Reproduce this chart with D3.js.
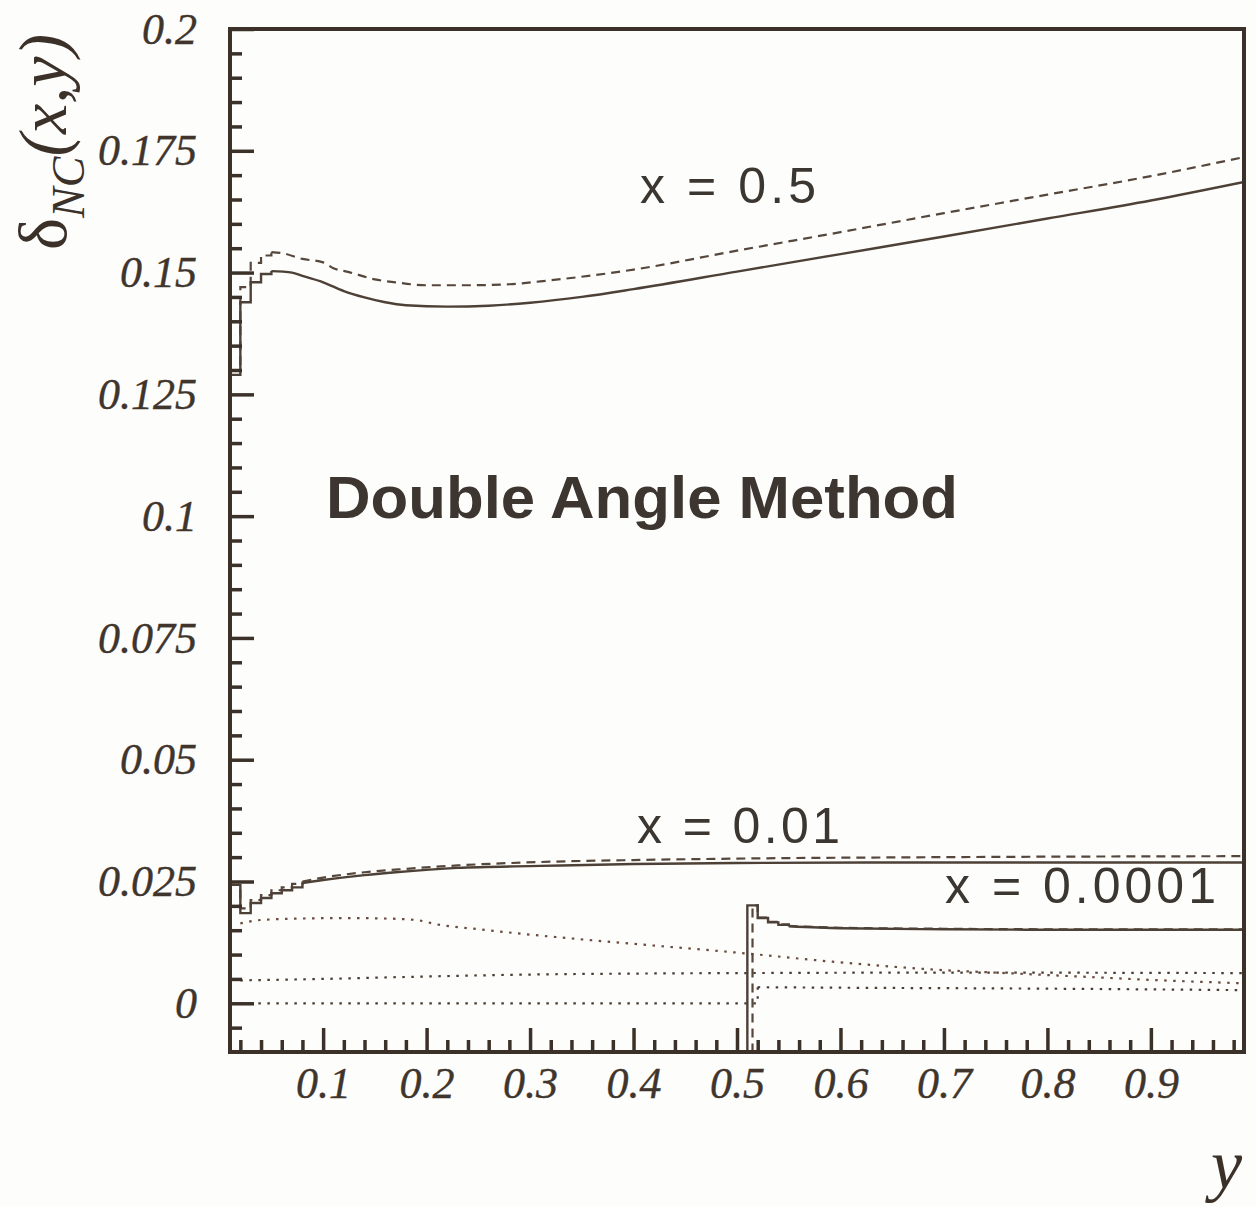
<!DOCTYPE html>
<html>
<head>
<meta charset="utf-8">
<script src="https://cdn.jsdelivr.net/npm/d3@7"></script>
<style>
    body { margin: 0; background: #fdfdfc; }
    svg { display: block; }
</style>
</head>
<body>
<div id="data-visualization"></div>
<script>
// tick values and labels
const xTickValues = [0.1, 0.2, 0.3, 0.4, 0.5, 0.6, 0.7, 0.8, 0.9];
const xTickLabels = ["0.1", "0.2", "0.3", "0.4", "0.5", "0.6", "0.7", "0.8", "0.9"];
const yTickValues = [0, 0.025, 0.05, 0.075, 0.1, 0.125, 0.15, 0.175, 0.2];
const yTickLabels = ["0", "0.025", "0.05", "0.075", "0.1", "0.125", "0.15", "0.175", "0.2"];

// x = 0.5, solid (step part near y = 0, then smooth part)
const x05SolidHeadX = [0.01, 0.02, 0.03, 0.04, 0.05];
const x05SolidHeadY = [0.129, 0.1439, 0.148, 0.1497, 0.1503];
const x05SolidX = [0.05, 0.07, 0.08, 0.1, 0.12, 0.14, 0.16, 0.18, 0.22, 0.26, 0.3, 0.35, 0.4, 0.5, 0.6, 0.7, 0.8, 0.9, 0.99];
const x05SolidY = [0.1503, 0.1500, 0.1493, 0.1480, 0.1462, 0.1449, 0.1439, 0.1433, 0.1430, 0.1432, 0.1438, 0.1450, 0.1466, 0.1502, 0.1538, 0.1574, 0.1611, 0.1648, 0.1686];

// x = 0.5, dashed
const x05DashHeadX = [0.01, 0.02, 0.03, 0.04, 0.05];
const x05DashHeadY = [0.13, 0.147, 0.152, 0.1535, 0.1542];
const x05DashX = [0.05, 0.06, 0.08, 0.1, 0.11, 0.125, 0.15, 0.17, 0.2, 0.24, 0.28, 0.31, 0.4, 0.5, 0.6, 0.7, 0.8, 0.9, 0.99];
const x05DashY = [0.1542, 0.1540, 0.1528, 0.1521, 0.1509, 0.1501, 0.1486, 0.1480, 0.1474, 0.1474, 0.1476, 0.1482, 0.1506, 0.1545, 0.1583, 0.1622, 0.1660, 0.1698, 0.1737];

// x = 0.01, solid
const x001SolidHeadX = [0.01, 0.02, 0.03, 0.04, 0.05, 0.06, 0.07, 0.08];
const x001SolidHeadY = [0.0243, 0.0185, 0.0206, 0.0216, 0.0226, 0.0232, 0.0238, 0.0247];
const x001SolidX = [0.08, 0.1, 0.14, 0.17, 0.23, 0.31, 0.4, 0.5, 0.7, 0.99];
const x001SolidY = [0.0247, 0.0253, 0.0263, 0.0269, 0.0278, 0.0282, 0.0286, 0.0288, 0.0289, 0.0289];

// x = 0.01, dashed
const x001DashHeadX = [0.01, 0.02, 0.03, 0.04, 0.05, 0.06, 0.07, 0.08];
const x001DashHeadY = [0.0243, 0.0195, 0.0212, 0.0222, 0.0232, 0.0238, 0.0245, 0.0250];
const x001DashX = [0.08, 0.1, 0.14, 0.18, 0.23, 0.31, 0.4, 0.5, 0.7, 0.99];
const x001DashY = [0.0250, 0.0258, 0.0269, 0.0276, 0.0283, 0.0290, 0.0294, 0.0297, 0.0300, 0.0302];

// x = 0.0001, solid (nothing below y = 0.51)
const x0001SolidHeadX = [0.50, 0.51, 0.52, 0.53, 0.54, 0.55];
const x0001SolidHeadY = [-0.01, 0.0201, 0.0175, 0.0166, 0.0161, 0.0158];
const x0001SolidX = [0.55, 0.6, 0.7, 0.8, 0.9, 0.99];
const x0001SolidY = [0.0158, 0.0154, 0.0152, 0.0151, 0.0151, 0.0151];

// x = 0.0001, dashed
const x0001DashHeadX = [0.50, 0.515, 0.52, 0.53, 0.54, 0.55];
const x0001DashHeadY = [-0.01, 0.0201, 0.0176, 0.0167, 0.0162, 0.0159];
const x0001DashX = [0.55, 0.6, 0.7, 0.8, 0.9, 0.99];
const x0001DashY = [0.0159, 0.0155, 0.0153, 0.0152, 0.0152, 0.0152];

// dotted curves
const dotAX = [0.02, 0.04, 0.08, 0.12, 0.16, 0.19, 0.21, 0.25, 0.3, 0.4, 0.5, 0.6, 0.7, 0.75, 0.8, 0.85, 0.9, 0.99];
const dotAY = [0.0164, 0.0171, 0.0174, 0.0175, 0.0174, 0.0171, 0.0162, 0.0152, 0.0141, 0.0122, 0.0104, 0.0084, 0.0068, 0.0063, 0.0058, 0.0053, 0.0048, 0.0041];
const dotBX = [0.02, 0.1, 0.2, 0.3, 0.4, 0.5, 0.7, 0.99];
const dotBY = [0.0047, 0.0050, 0.0055, 0.0059, 0.0061, 0.0062, 0.0063, 0.0062];
const dotCHeadX = [0.02, 0.52];
const dotCHeadY = [0, 0.0033];
const dotCX = [0.52, 0.6, 0.8, 0.99];
const dotCY = [0.0033, 0.0032, 0.0030, 0.0027];

const ink = "#3b3129";
const serif = "'Liberation Serif', 'DejaVu Serif', serif";

let svg = d3.select("#data-visualization")
    .append("svg")
    .attr("width", 1256)
    .attr("height", 1207);

svg.append("rect")
    .attr("width", 1256)
    .attr("height", 1207)
    .attr("fill", "#fdfdfc");

// scales
let x = d3.scaleLinear()
    .domain([0.01, 0.99])
    .range([230, 1244]);

let y = d3.scaleLinear()
    .domain([-0.01, 0.2])
    .range([1052, 29]);

svg.append("clipPath")
    .attr("id", "plot-clip")
    .append("rect")
    .attr("x", 230)
    .attr("y", 29)
    .attr("width", 1014)
    .attr("height", 1023);

let plot = svg.append("g").attr("clip-path", "url(#plot-clip)");

function drawSeries(xs, ys, curve, dash, color, width) {
    let data = [];
    for (let i = 0; i < xs.length; i++) {
        data.push({ x: xs[i], y: ys[i] });
    }
    plot.append("path")
        .datum(data)
        .attr("fill", "none")
        .attr("stroke", color)
        .attr("stroke-width", width)
        .attr("stroke-dasharray", dash)
        .attr("d", d3.line()
            .curve(curve)
            .x(function (d) { return x(d.x) })
            .y(function (d) { return y(d.y) })
        );
}

// dotted lines
const dots = "2.5,6.5";
drawSeries(dotAX, dotAY, d3.curveMonotoneX, dots, "#6a4a3c", 2.2);
drawSeries(dotBX, dotBY, d3.curveMonotoneX, dots, "#4a3d33", 2.2);
drawSeries(dotCHeadX, dotCHeadY, d3.curveStepAfter, dots, "#4a3d33", 2.2);
drawSeries(dotCX, dotCY, d3.curveMonotoneX, dots, "#4a3d33", 2.2);

// dashed lines
const dashes = "9,6";
drawSeries(x05DashHeadX, x05DashHeadY, d3.curveStepAfter, dashes, "#55473c", 2.2);
drawSeries(x05DashX, x05DashY, d3.curveMonotoneX, dashes, "#55473c", 2.2);
drawSeries(x001DashHeadX, x001DashHeadY, d3.curveStepAfter, dashes, "#55473c", 2.2);
drawSeries(x001DashX, x001DashY, d3.curveMonotoneX, dashes, "#55473c", 2.2);
drawSeries(x0001DashHeadX, x0001DashHeadY, d3.curveStepAfter, dashes, "#55473c", 2.2);
drawSeries(x0001DashX, x0001DashY, d3.curveMonotoneX, dashes, "#55473c", 2.2);

// solid lines
drawSeries(x05SolidHeadX, x05SolidHeadY, d3.curveStepAfter, null, "#4d4036", 2.4);
drawSeries(x05SolidX, x05SolidY, d3.curveMonotoneX, null, "#4d4036", 2.4);
drawSeries(x001SolidHeadX, x001SolidHeadY, d3.curveStepAfter, null, "#4d4036", 2.4);
drawSeries(x001SolidX, x001SolidY, d3.curveMonotoneX, null, "#4d4036", 2.4);
drawSeries(x0001SolidHeadX, x0001SolidHeadY, d3.curveStepAfter, null, "#4d4036", 2.4);
drawSeries(x0001SolidX, x0001SolidY, d3.curveMonotoneX, null, "#4d4036", 2.4);

// minor ticks
let yMinor = d3.range(-0.005, 0.2, 0.005).filter(function (v) {
    return Math.abs(v / 0.025 - Math.round(v / 0.025)) > 0.01;
});
let xMinor = d3.range(0.02, 0.99, 0.02).filter(function (v) {
    return Math.abs(v / 0.1 - Math.round(v / 0.1)) > 0.01;
});

svg.append("g")
    .attr("class", "axis minor")
    .attr("transform", "translate(230,0)")
    .call(d3.axisLeft(y).tickValues(yMinor).tickSize(-12).tickFormat(""));

svg.append("g")
    .attr("class", "axis minor")
    .attr("transform", "translate(0,1052)")
    .call(d3.axisBottom(x).tickValues(xMinor).tickSize(-12).tickFormat(""));

// Add Y axis
svg.append("g")
    .attr("class", "axis")
    .attr("transform", "translate(230,0)")
    .call(d3.axisLeft(y)
        .tickValues(yTickValues)
        .tickSize(-24)
        .tickPadding(33)
        .tickFormat(function (d, i) { return yTickLabels[i]; }));

// Add X axis
svg.append("g")
    .attr("class", "axis")
    .attr("transform", "translate(0,1052)")
    .call(d3.axisBottom(x)
        .tickValues(xTickValues)
        .tickSize(-24)
        .tickPadding(15)
        .tickFormat(function (d, i) { return xTickLabels[i]; }));

svg.selectAll(".axis .domain").remove();
svg.selectAll(".axis line")
    .attr("stroke", ink)
    .attr("stroke-width", 3.5);
svg.selectAll(".axis text")
    .attr("fill", "#3f352c")
    .attr("stroke", "#3f352c")
    .attr("stroke-width", 0.4)
    .style("font-family", serif)
    .style("font-style", "italic")
    .style("font-size", "44px");

// frame
svg.append("rect")
    .attr("x", 230)
    .attr("y", 29)
    .attr("width", 1014)
    .attr("height", 1023)
    .attr("fill", "none")
    .attr("stroke", ink)
    .attr("stroke-width", 4);

// curve labels
const labelFont = "'Liberation Sans', Arial, sans-serif";
function label(text, px, py, len) {
    svg.append("text")
        .attr("x", px)
        .attr("y", py)
        .attr("textLength", len)
        .attr("lengthAdjust", "spacing")
        .attr("fill", "#3c3631")
        .style("font-family", labelFont)
        .style("font-size", "50px")
        .text(text);
}
label("x = 0.5", 640, 203, 176);
label("x = 0.01", 637, 843, 203);
label("x = 0.0001", 945, 903, 271);

svg.append("text")
    .attr("x", 326)
    .attr("y", 518)
    .attr("textLength", 632)
    .attr("lengthAdjust", "spacingAndGlyphs")
    .attr("fill", "#3d3630")
    .style("font-family", labelFont)
    .style("font-weight", "bold")
    .style("font-size", "60px")
    .text("Double Angle Method");

// axis titles
let yTitle = svg.append("text")
    .attr("transform", "translate(66,250) rotate(-90)")
    .attr("fill", ink)
    .style("font-family", serif)
    .style("font-size", "68px");
yTitle.append("tspan").text("δ");
yTitle.append("tspan").attr("dy", 18).style("font-size", "46px").style("font-style", "italic").text("NC");
yTitle.append("tspan").attr("dy", -18).style("font-style", "italic").text("(x,y)");

svg.append("text")
    .attr("x", 1242)
    .attr("y", 1188)
    .attr("text-anchor", "end")
    .attr("fill", ink)
    .style("font-family", serif)
    .style("font-style", "italic")
    .style("font-size", "70px")
    .text("y");
</script>
</body>
</html>
